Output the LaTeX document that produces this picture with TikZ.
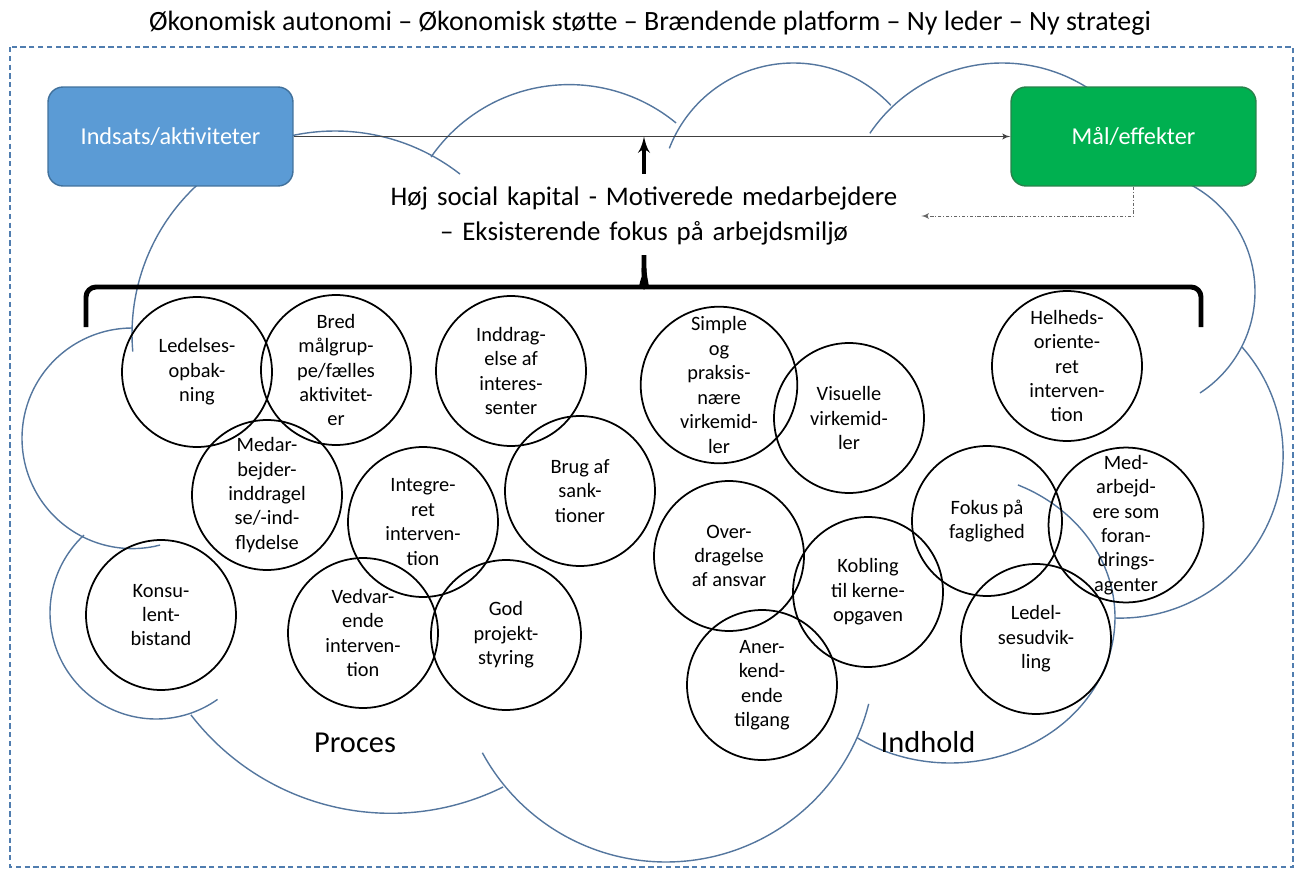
\documentclass[tikz,border=0pt]{standalone}
\usepackage{fontspec}
\setmainfont{Carlito}
\usepackage{tikz}
\usetikzlibrary{arrows}

\definecolor{cloudblue}{RGB}{84,118,158}
\definecolor{indblue}{RGB}{91,155,213}
\definecolor{indedge}{RGB}{65,113,156}
\definecolor{maalgreen}{RGB}{0,176,80}
\definecolor{maaledge}{RGB}{40,130,75}
\definecolor{frameblue}{RGB}{80,125,175}

\newcommand{\bubfont}{\fontsize{11.6}{13.9}\selectfont}
\newcommand{\boxfont}{\fontsize{13.8}{16}\selectfont}
\newcommand{\titlefont}{\fontsize{15.9}{19}\selectfont}
\newcommand{\bigfont}{\fontsize{15.3}{19.6}\selectfont}
\newcommand{\lblfont}{\fontsize{17.3}{20}\selectfont}

\begin{document}
\begin{tikzpicture}[x=0.02cm,y=-0.02cm,>=latex',
                    cloud/.style={draw=cloudblue,line width=0.8pt},
                    frame/.style={draw=frameblue,line width=0.8pt,dash pattern=on 3pt off 2pt},
                    box/.style={rectangle,rounded corners=0.3cm,minimum width=4.9cm,
                                minimum height=1.98cm,line width=0.8pt,text=white,font=\boxfont},
                    bubble/.style={circle,draw,line width=1pt,minimum size=3cm,inner sep=0pt,
                                   align=center,font=\bubfont},
                    mainline/.style={->,draw=black!75,line width=0.6pt},
                    uparrow/.style={->,line width=2.2pt},
                    feedback/.style={->,draw=black!60,line width=0.5pt,
                                     dash pattern=on 2pt off 1pt on 0.5pt off 1pt},
                    brace/.style={line width=2.8pt,rounded corners=0.2cm}]
    \useasboundingbox (0,0) rectangle (1302,869);

    % cloud behind everything
    \foreach \cx/\cy/\rx/\ry/\a/\b in {335/334/203/203/175/308,
            132.3/438.3/110.3/110.3/75.4/270, 156.1/612.9/106.1/106.1/54.6/227.2,
            390.9/560.9/252.4/252.4/63.6/142.4, 666/653/209/209/14.1/151.5,
            950/617.5/165/145.5/-65.7/124.1, 1120.2/455.2/162.9/162.9/-41.6/91.8,
            1134.1/291.6/120.9/120.9/-110/57, 1002.1/222.5/159.5/159.5/-146/-40,
            793.5/196/133/133/-159/-43, 569.2/252.6/168/168/-145.3/-50.5}
        \draw[cloud] plot[domain=\a:\b,samples=60,smooth,variable=\t]
            ({\cx+\rx*cos(\t)},{\cy+\ry*sin(\t)});

    \draw[frame] (10,47) rectangle (1293,867);

    \node [font=\titlefont] (title) at (650,23)
        {Økonomisk autonomi – Økonomisk støtte – Brændende platform – Ny leder – Ny strategi};

    \node [box,fill=indblue,draw=indedge]     (ind)  at (170.5,136.5) {Indsats/aktiviteter};
    \node [box,fill=maalgreen,draw=maaledge]  (maal) at (1133.5,136.5) {Mål/effekter};

    \node [font=\bigfont,text width=11.08cm,align=center,inner xsep=0pt,inner ysep=0.26cm]
        (hoj) at (644,216)
        {Høj social kapital - Motiverede medarbejdere\\– Eksisterende fokus på arbejdsmiljø};

    \path (ind) edge [mainline] (maal);
    \draw [uparrow]  (hoj.north) -- (hoj.north |- ind.east);
    \draw [feedback] (maal.south) |- (hoj.east);

    % the brace under the text
    \draw [brace] (86,327) -- (86,287) -- (632,287) to[out=0,in=-90] (644,268) -- (644,255);
    \draw [brace] (1201,327) -- (1201,287) -- (656,287) to[out=180,in=-90] (644,268);

    % proces
    \node [bubble] (c1)  at (197,372)  {Ledelses-\\opbak-\\ning};
    \node [bubble] (c2)  at (336,370)  {Bred\\målgrup-\\pe/fælles\\aktivitet-\\er};
    \node [bubble] (c3)  at (511,371)  {Inddrag-\\else af\\interes-\\senter};
    \node [bubble] (c4)  at (267,495)  {Medar-\\bejder-\\inddragel\\se/-ind-\\flydelse};
    \node [bubble] (c5)  at (423,522)  {Integre-\\ret\\interven-\\tion};
    \node [bubble] (c6)  at (580,491)  {Brug af\\sank-\\tioner};
    \node [bubble] (c7)  at (161,615)  {Konsu-\\lent-\\bistand};
    \node [bubble] (c8)  at (363,633)  {Vedvar-\\ende\\interven-\\tion};
    \node [bubble] (c9)  at (506,635)  {God\\projekt-\\styring};
    % indhold
    \node [bubble] (c10) at (719,385)  {Simple\\og\\praksis-\\nære\\virkemid-\\ler};
    \node [bubble] (c11) at (849,418)  {Visuelle\\virkemid-\\ler};
    \node [bubble] (c12) at (1067,366) {Helheds-\\oriente-\\ret\\interven-\\tion};
    \node [bubble] (c13) at (729,556)  {Over-\\dragelse\\af ansvar};
    \node [bubble] (c14) at (868,592)  {Kobling\\til kerne-\\opgaven};
    \node [bubble] (c15) at (762,685)  {Aner-\\kend-\\ende\\tilgang};
    \node [bubble] (c16) at (987,521)  {Fokus på\\faglighed};
    \node [bubble] (c17) at (1126,525) {Med-\\arbejd-\\ere som\\foran-\\drings-\\agenter};
    \node [bubble] (c18) at (1036,639) {Ledel-\\sesudvik-\\ling};

    \node [font=\lblfont] (proces)  at (355,743) {Proces};
    \node [font=\lblfont] (indhold) at (928,742) {Indhold};
\end{tikzpicture}
\end{document}
